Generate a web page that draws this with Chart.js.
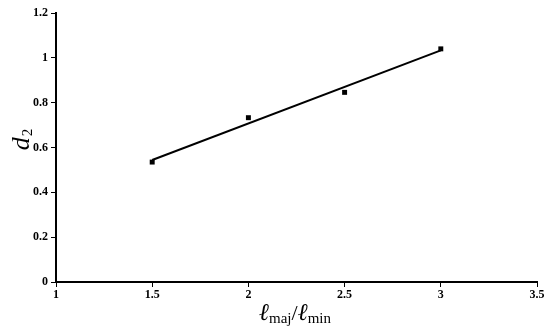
<!DOCTYPE html>
<html>
<head>
<meta charset="utf-8">
<script src="https://cdn.jsdelivr.net/npm/chart.js@4"></script>
<style>
  html, body { margin: 0; padding: 0; background: #fff; }
  #wrap { width: 550px; height: 332px; }
</style>
</head>
<body>
<div id="wrap"><canvas id="ratioChart"></canvas></div>
<script>
// measured points
const ratios = [1.5, 2, 2.5, 3];
const d2Values = [0.535, 0.733, 0.846, 1.04];
// fitted line
const fitRatios = [1.5, 3];
const fitValues = [0.544, 1.033];

const xTicks = [1, 1.5, 2, 2.5, 3, 3.5];
const yTicks = [0, 0.2, 0.4, 0.6, 0.8, 1, 1.2];

const tickFont = { family: 'Liberation Serif', size: 12, weight: 'bold' };

// axis titles with subscripts
const titlesPlugin = {
  id: 'titles',
  afterDraw(chart) {
    const ctx = chart.ctx;
    ctx.save();
    ctx.fillStyle = '#000';
    ctx.textBaseline = 'alphabetic';

    // y title: d2, rotated
    ctx.translate(29, 140);
    ctx.rotate(-Math.PI / 2);
    ctx.font = 'italic 26px "Liberation Serif"';
    ctx.textAlign = 'left';
    const dw = ctx.measureText('d').width;
    ctx.font = '15px "Liberation Serif"';
    const sw = ctx.measureText('2').width;
    let x0 = -(dw + sw) / 2;
    ctx.font = 'italic 26px "Liberation Serif"';
    ctx.fillText('d', x0, 0);
    ctx.font = '15px "Liberation Serif"';
    ctx.fillText('2', x0 + dw + 1, 3);
    ctx.restore();

    // x title: lmaj/lmin
    ctx.save();
    ctx.fillStyle = '#000';
    const parts = [
      { t: 'ℓ', f: 'italic 24px "Liberation Serif"', dy: 0 },
      { t: 'maj', f: '15px "Liberation Serif"', dy: 3 },
      { t: '/', f: '22px "Liberation Serif"', dy: 0 },
      { t: 'ℓ', f: 'italic 24px "Liberation Serif"', dy: 0 },
      { t: 'min', f: '15px "Liberation Serif"', dy: 3 }
    ];
    let total = 0;
    parts.forEach(p => { ctx.font = p.f; p.w = ctx.measureText(p.t).width; total += p.w; });
    let x = 295 - total / 2;
    const base = 320;
    ctx.textAlign = 'left';
    parts.forEach(p => {
      ctx.font = p.f;
      ctx.fillText(p.t, x, base + p.dy);
      x += p.w;
    });
    ctx.restore();
  }
};

const ctx = document.getElementById('ratioChart').getContext('2d');

new Chart(ctx, {
  type: 'scatter',
  data: {
    datasets: [
      {
        label: 'fit',
        data: fitRatios.map((r, i) => ({ x: r, y: fitValues[i] })),
        showLine: true,
        borderColor: '#000',
        borderWidth: 2,
        pointRadius: 0
      },
      {
        label: 'd2',
        data: ratios.map((r, i) => ({ x: r, y: d2Values[i] })),
        pointStyle: 'rect',
        pointRadius: 3.5,
        backgroundColor: '#000',
        borderColor: '#000',
        borderWidth: 0
      }
    ]
  },
  options: {
    responsive: true,
    maintainAspectRatio: false,
    animation: false,
    layout: { padding: { left: 0, right: 13, top: 13, bottom: 0 } },
    plugins: {
      legend: { display: false },
      tooltip: { enabled: false }
    },
    scales: {
      x: {
        type: 'linear',
        min: 1,
        max: 3.5,
        afterFit(scale) { scale.height = 50; },
        afterBuildTicks(scale) { scale.ticks = xTicks.map(v => ({ value: v })); },
        ticks: { font: tickFont, color: '#000', padding: 1, callback: v => String(v) },
        grid: { drawOnChartArea: false, color: '#000', tickLength: 5, lineWidth: 1 },
        border: { color: '#000', width: 2 }
      },
      y: {
        type: 'linear',
        min: 0,
        max: 1.2,
        afterFit(scale) { scale.width = 56; },
        afterBuildTicks(scale) { scale.ticks = yTicks.map(v => ({ value: v })); },
        ticks: { font: tickFont, color: '#000', padding: 3, callback: v => String(v) },
        grid: { drawOnChartArea: false, color: '#000', tickLength: 5, lineWidth: 1 },
        border: { color: '#000', width: 2 }
      }
    }
  },
  plugins: [titlesPlugin]
});
</script>
</body>
</html>
